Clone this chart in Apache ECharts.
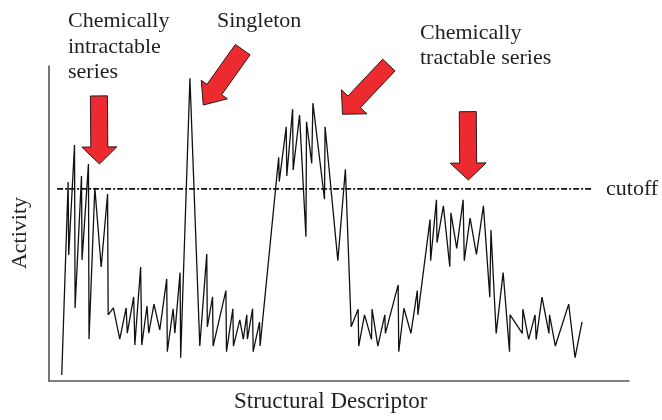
<!DOCTYPE html>
<html>
<head>
<meta charset="utf-8">
<script src="https://cdn.jsdelivr.net/npm/echarts@6/dist/echarts.min.js"></script>
<style>
  html, body { margin: 0; padding: 0; background: #fff; }
  #chart { width: 662px; height: 420px; }
</style>
</head>
<body>
<div id="chart"></div>
<script>
// Structural descriptor (x) for each measured compound
const descriptor = [
  2.2, 3.3, 3.4, 4.4, 4.5, 5.6, 5.7, 6.8, 6.9, 7.9, 9.0, 10.1, 10.2, 11.1, 12.2, 13.3, 13.5,
  14.6, 14.8, 15.8, 16.0, 16.9, 17.2, 18.1, 19.1, 20.3, 20.4, 21.4, 21.7, 22.6, 22.7, 24.3,
  26.0, 27.2, 27.3, 28.2, 28.3, 30.5, 30.6, 31.7, 31.8, 32.9, 33.5, 34.1, 34.2, 35.1, 35.2,
  36.3, 36.4, 39.6, 39.7, 40.9, 41.0, 42.0, 42.1, 43.2, 44.3, 44.4, 45.3, 45.5, 47.5, 47.6,
  49.8, 51.1, 52.1, 53.3, 53.4, 54.4, 55.6, 55.7, 56.7, 57.9, 58.0, 60.2, 60.3, 61.2, 62.4,
  63.5, 63.6, 65.7, 65.8, 66.8, 66.9, 68.0, 69.1, 69.3, 70.3, 71.4, 71.6, 72.6, 73.7, 74.9,
  76.0, 76.2, 77.1, 78.3, 79.4, 79.5, 81.6, 81.7, 82.7, 83.8, 84.0, 85.0, 86.2, 86.3, 87.3,
  89.6, 90.7, 91.9
];

// Activity measured for each compound
const activity = [
  1.9, 63.2, 40.0, 74.9, 23.2, 65.1, 38.4, 68.9, 13.3, 61.3, 36.2, 59.4, 21.0, 23.2, 13.3, 23.2, 15.2,
  26.7, 11.4, 36.2, 11.4, 23.8, 15.2, 24.4, 16.2, 32.4, 9.3, 22.9, 15.2, 34.4, 7.4, 96.1,
  11.1, 40.3, 17.2, 26.7, 11.1, 28.7, 9.3, 22.9, 11.1, 19.4, 13.3, 21.0, 13.3, 22.9, 9.3,
  18.7, 11.1, 71.0, 63.3, 80.7, 65.1, 86.3, 67.0, 84.4, 45.8, 82.3, 69.1, 88.2, 57.7, 80.7,
  38.2, 67.2, 17.2, 22.8, 11.1, 21.0, 13.2, 22.8, 11.1, 21.0, 15.1, 30.5, 9.3, 23.1, 15.1,
  28.7, 21.0, 51.3, 38.2, 57.5, 43.9, 55.6, 36.3, 53.4, 42.1, 57.5, 38.2, 51.7, 40.2, 55.6,
  26.6, 47.9, 15.1, 34.4, 9.3, 21.0, 15.1, 22.8, 13.2, 21.0, 13.2, 26.6, 15.1, 21.0, 11.1,
  24.4, 7.4, 18.8
];

// Activity cutoff and the descriptor range it is drawn over
const cutoffLevel = 61.0;
const cutoffSpan = [1.4, 93.6];

// Annotation arrows: tip and tail in (descriptor, activity) units
const arrowTips  = [[8.7, 68.9], [26.6, 87.6], [50.6, 84.7], [72.3, 63.8]];
const arrowTails = [[8.6, 90.5], [33.4, 105.2], [58.6, 100.3], [72.2, 85.5]];

const SERIF = '"Liberation Serif", "Times New Roman", serif';
const INK = '#231f20';

const chart = echarts.init(document.getElementById('chart'), null, { renderer: 'canvas' });

const points = descriptor.map((x, i) => [x, activity[i]]);
const cutoffLine = cutoffSpan.map(x => [x, cutoffLevel]);

chart.setOption({
  animation: false,
  backgroundColor: '#fff',
  grid: { left: 49, right: 33, top: 66, bottom: 39 },
  xAxis: {
    type: 'value', min: 0, max: 100,
    axisLine: { show: true, lineStyle: { color: '#555', width: 1.6 } },
    axisTick: { show: false }, axisLabel: { show: false }, splitLine: { show: false }
  },
  yAxis: {
    type: 'value', min: 0, max: 100,
    axisLine: { show: true, lineStyle: { color: '#555', width: 1.6 } },
    axisTick: { show: false }, axisLabel: { show: false }, splitLine: { show: false }
  },
  series: [
    {
      type: 'line', data: points, symbol: 'none', silent: true,
      lineStyle: { color: '#111', width: 1.3 }
    },
    {
      type: 'line', data: cutoffLine, symbol: 'none', silent: true,
      lineStyle: { color: '#111', width: 1.6, type: [6, 2, 2, 2] }
    }
  ]
});

function arrowShape(tip, tail, shaftW, headW, headL) {
  const dx = tip[0] - tail[0], dy = tip[1] - tail[1];
  const len = Math.hypot(dx, dy);
  const ux = dx / len, uy = dy / len;
  const px = -uy, py = ux;
  const bx = tip[0] - ux * headL, by = tip[1] - uy * headL;
  const p = (x, y, w) => [x + px * w, y + py * w];
  return [
    p(tail[0], tail[1], shaftW / 2),
    p(bx, by, shaftW / 2),
    p(bx, by, headW / 2),
    tip,
    p(bx, by, -headW / 2),
    p(bx, by, -shaftW / 2),
    p(tail[0], tail[1], -shaftW / 2)
  ];
}

const arrowDims = [[17, 35, 17], [18, 32, 19], [17, 35, 17], [17, 36, 17]];
const arrows = arrowTips.map((tip, i) => {
  const t = chart.convertToPixel({ gridIndex: 0 }, tip);
  const s = chart.convertToPixel({ gridIndex: 0 }, arrowTails[i]);
  const d = arrowDims[i];
  return {
    type: 'polygon', silent: true,
    shape: { points: arrowShape(t, s, d[0], d[1], d[2]) },
    style: { fill: '#ec2a2f', stroke: '#2a1a1a', lineWidth: 1 }
  };
});

const label = (text, x, y, size) => ({
  type: 'text', x, y, silent: true,
  style: { text, font: (size || 22) + 'px ' + SERIF, fill: INK, verticalAlign: 'middle' }
});

chart.setOption({
  graphic: arrows.concat([
    label('Chemically', 68, 21),
    label('intractable', 68, 47),
    label('series', 68, 72),
    label('Singleton', 217, 21),
    label('Chemically', 420, 33),
    label('tractable series', 420, 58.5),
    label('cutoff', 606, 189),
    label('Structural Descriptor', 234, 402, 23),
    {
      type: 'text', x: 20, y: 233, rotation: Math.PI / 2, silent: true,
      style: { text: 'Activity', font: '22px ' + SERIF, fill: INK, align: 'center', verticalAlign: 'middle' }
    }
  ])
});
</script>
</body>
</html>
